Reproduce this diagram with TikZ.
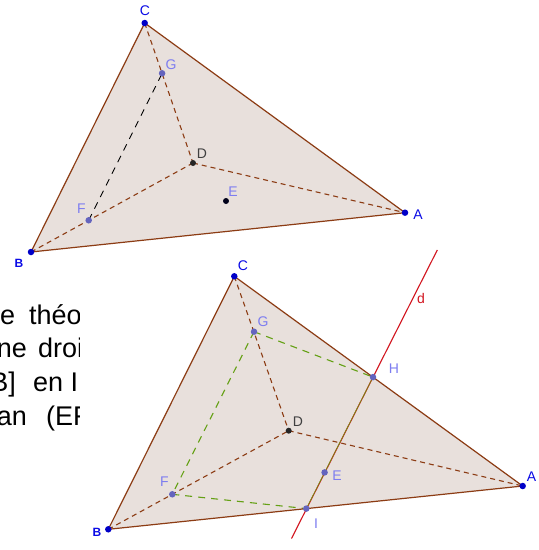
\documentclass[tikz,border=0pt]{standalone}
\usepackage{fontspec}
\setmainfont{Liberation Sans}
\definecolor{fillc}{RGB}{232,224,220}
\definecolor{brn}{RGB}{140,60,20}
\definecolor{grn}{RGB}{100,160,20}
\definecolor{ptblue}{RGB}{0,0,200}
\definecolor{ptlight}{RGB}{100,100,190}
\definecolor{lbllight}{RGB}{125,125,240}
\definecolor{lblblue}{RGB}{10,10,230}
\definecolor{redd}{RGB}{210,20,30}
\begin{document}
\begin{tikzpicture}[x=1pt,y=-1pt,
  edge/.style={draw=brn,line width=1.2pt},
  hid/.style={draw=brn,line width=1.1pt,dash pattern=on 5pt off 4pt},
  blk/.style={draw=black,line width=0.9pt,dash pattern=on 7pt off 6pt},
  grd/.style={draw=grn,line width=1.1pt,dash pattern=on 7pt off 6pt},
  face/.style={fill=fillc},
  bpt/.style={circle,fill=ptblue,inner sep=0pt,minimum size=6.5pt},
  lpt/.style={circle,fill=ptlight,inner sep=0pt,minimum size=6.5pt},
  dpt/.style={circle,fill=black!85,inner sep=0pt,minimum size=6pt},
  lbl/.style={font=\fontsize{14}{14}\selectfont,inner sep=0pt},
  blbl/.style={font=\fontsize{12}{12}\selectfont\bfseries,inner sep=0pt},
  txt/.style={font=\fontsize{27}{27}\selectfont,inner sep=0pt}]
\useasboundingbox[fill=white] (0,0) rectangle (539,550);

% ---- clipped paragraph text
\begin{scope}
\clip (0,290) rectangle (79,445);
\node[txt,anchor=base west] (t1a) at (0,324) {e};
\node[txt,anchor=base west] (t1b) at (29,324) {théorème};
\node[txt,anchor=base east] (t2a) at (27,357) {une};
\node[txt,anchor=base west] (t2b) at (38,357) {droite};
\node[txt,anchor=base east] (t3a) at (16,391) {[AB]};
\node[txt,anchor=base west] (t3b) at (33,391) {en I};
\node[txt,anchor=base east] (t4a) at (27,425) {plan};
\node[txt,anchor=base west] (t4b) at (46,425) {(EFG)};
\end{scope}

% ---- top figure
\coordinate (A1) at (405,212.7);
\coordinate (B1) at (31,252);
\coordinate (C1) at (144.7,23);
\coordinate (D1) at (193,163);
\coordinate (E1) at (226,201);
\coordinate (F1) at (88.7,220.3);
\coordinate (G1) at (162.1,73.3);
\fill[face] (A1) -- (B1) -- (C1) -- cycle;
\draw[hid] (C1) -- (D1);
\draw[hid] (D1) -- (A1);
\draw[hid] (B1) -- (D1);
\draw[blk] (F1) -- (G1);
\draw[edge,line join=round] (A1) -- (B1) -- (C1) -- cycle;
\node[bpt] (pA1) at (A1) {};
\node[bpt] (pB1) at (B1) {};
\node[bpt] (pC1) at (C1) {};
\node[dpt] (pD1) at (D1) {};
\node[circle,fill=black!90!blue,inner sep=0pt,minimum size=6pt] (pE1) at (E1) {};
\node[lpt] (pF1) at (F1) {};
\node[lpt] (pG1) at (G1) {};
\node[lbl,text=lblblue] (lA1) at (418,215) {A};
\node[blbl,text=lblblue] (lB1) at (19,263) {B};
\node[lbl,text=lblblue] (lC1) at (145,11) {C};
\node[lbl,text=black!75] (lD1) at (202,154) {D};
\node[lbl,text=lbllight] (lE1) at (233,192) {E};
\node[lbl,text=lbllight] (lF1) at (81.5,209) {F};
\node[lbl,text=lbllight] (lG1) at (171,65) {G};

% ---- bottom figure
\coordinate (A2) at (522.7,486);
\coordinate (B2) at (108.3,529.3);
\coordinate (C2) at (234.3,276.3);
\coordinate (D2) at (288.7,430.7);
\coordinate (G2) at (254,331.7);
\coordinate (F2) at (172.3,494.3);
\coordinate (H2) at (373,377.1);
\coordinate (I2) at (306.3,508.6);
\coordinate (E2) at (324.6,472.4);
\coordinate (dtop) at (437.3,250);
\coordinate (dbot) at (291.5,538.5);
\fill[face] (A2) -- (B2) -- (C2) -- cycle;
\draw[hid] (C2) -- (D2);
\draw[hid] (D2) -- (A2);
\draw[hid] (B2) -- (D2);
\draw[grd] (G2) -- (H2);
\draw[grd] (G2) -- (F2);
\draw[grd] (F2) -- (I2);
\draw[edge,line join=round] (A2) -- (B2) -- (C2) -- cycle;
\draw[draw=redd,line width=1.1pt] (dtop) -- (dbot);
\draw[draw=grn,line width=0.6pt] (H2) -- (I2);
\node[bpt] (pA2) at (A2) {};
\node[bpt] (pB2) at (B2) {};
\node[bpt] (pC2) at (C2) {};
\node[dpt] (pD2) at (D2) {};
\node[lpt] (pG2) at (G2) {};
\node[lpt] (pF2) at (F2) {};
\node[lpt] (pH2) at (H2) {};
\node[lpt] (pI2) at (I2) {};
\node[lpt] (pE2) at (E2) {};
\node[lbl,text=lblblue] (lA2) at (531.5,477) {A};
\node[blbl,text=lblblue] (lB2) at (97,532) {B};
\node[lbl,text=lblblue] (lC2) at (243,265.5) {C};
\node[lbl,text=black!75] (lD2) at (298,422) {D};
\node[lbl,text=lbllight] (lE2) at (337,476) {E};
\node[lbl,text=lbllight] (lF2) at (164.5,481.5) {F};
\node[lbl,text=lbllight] (lG2) at (263,322) {G};
\node[lbl,text=lbllight] (lH2) at (394,369) {H};
\node[lbl,text=lbllight] (lI2) at (316,524) {I};
\node[lbl,text=redd] (ld) at (421,298) {d};
\end{tikzpicture}
\end{document}
